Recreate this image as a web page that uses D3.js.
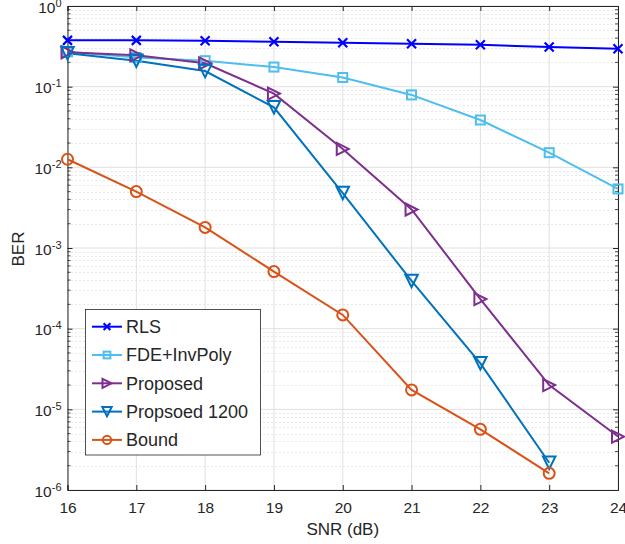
<!DOCTYPE html>
<html>
<head>
<meta charset="utf-8">
<script src="https://cdn.jsdelivr.net/npm/d3@7"></script>
<style>
  body { margin: 0; background: #fff; }
  text { font-family: "Liberation Sans", Arial, Helvetica, sans-serif; fill: #262626; }
</style>
</head>
<body>
<script>
// data
var snr = [16, 17, 18, 19, 20, 21, 22, 23, 24];
var rls = [0.375, 0.375, 0.37, 0.36, 0.35, 0.34, 0.33, 0.31, 0.295];
var fdeInvPoly = [0.27, 0.23, 0.21, 0.175, 0.13, 0.079, 0.0386, 0.0152, 0.0054];
var proposed = [0.267, 0.245, 0.195, 0.082, 0.0169, 0.0030, 2.33e-4, 2.0e-5, 4.6e-6];
var proposed1200 = [0.259, 0.21, 0.156, 0.0555, 0.0048, 3.9e-4, 3.72e-5, 2.18e-6];
var bound = [0.0126, 0.0050, 0.0018, 5.1e-4, 1.48e-4, 1.74e-5, 5.65e-6, 1.61e-6];
var xTicks = [16, 17, 18, 19, 20, 21, 22, 23, 24];
var yTicks = [1e-6, 1e-5, 1e-4, 1e-3, 1e-2, 1e-1, 1];

var series = [
  {name: 'RLS', values: rls, color: '#0000ff', marker: 'x'},
  {name: 'FDE+InvPoly', values: fdeInvPoly, color: '#4dbeee', marker: 'square'},
  {name: 'Proposed', values: proposed, color: '#7e2f8e', marker: 'right'},
  {name: 'Propsoed 1200', values: proposed1200, color: '#0072bd', marker: 'down'},
  {name: 'Bound', values: bound, color: '#d95319', marker: 'circle'}
];

var W = 625, H = 544;
var pLeft = 67.5, pRight = 618, pTop = 6, pBottom = 490;

var x = d3.scaleLinear().domain([16, 24]).range([pLeft, pRight]);
var y = d3.scaleLog().domain([1e-6, 1]).range([pBottom, pTop]);

var svg = d3.select('body').append('svg')
  .attr('width', W)
  .attr('height', H);

// minor + major grid
var minor = y.ticks().filter(function(d) { return yTicks.indexOf(d) < 0; });
svg.append('g').selectAll('line').data(minor).enter().append('line')
  .attr('x1', pLeft).attr('x2', pRight)
  .attr('y1', function(d) { return Math.round(y(d)) + 0.5; })
  .attr('y2', function(d) { return Math.round(y(d)) + 0.5; })
  .attr('stroke', '#c8c8c8').attr('stroke-width', 0.8)
  .attr('stroke-dasharray', '1,3');

svg.append('g').selectAll('line').data(yTicks).enter().append('line')
  .attr('x1', pLeft).attr('x2', pRight)
  .attr('y1', function(d) { return y(d); })
  .attr('y2', function(d) { return y(d); })
  .attr('stroke', '#e0e0e0').attr('stroke-width', 1);

svg.append('g').selectAll('line').data(xTicks).enter().append('line')
  .attr('y1', pTop).attr('y2', pBottom)
  .attr('x1', function(d) { return x(d); })
  .attr('x2', function(d) { return x(d); })
  .attr('stroke', '#e0e0e0').attr('stroke-width', 1);

// axes (ticks point inward, box on)
var xAxis = svg.append('g')
  .attr('transform', 'translate(0,' + pBottom + ')')
  .call(d3.axisBottom(x).tickValues(xTicks).tickSize(-5).tickPadding(12).tickFormat(d3.format('d')));
svg.append('g')
  .attr('transform', 'translate(0,' + pTop + ')')
  .call(d3.axisTop(x).tickValues(xTicks).tickSize(-5).tickFormat(''));

var yAxis = svg.append('g')
  .attr('transform', 'translate(' + pLeft + ',0)')
  .call(d3.axisLeft(y).tickValues(yTicks).tickSize(-5).tickPadding(6).tickFormat(''));
svg.append('g')
  .attr('transform', 'translate(' + pRight + ',0)')
  .call(d3.axisRight(y).tickValues(yTicks).tickSize(-5).tickFormat(''));

[pLeft, pRight].forEach(function(px) {
  var dir = px === pLeft ? 1 : -1;
  svg.append('g').selectAll('line').data(minor).enter().append('line')
    .attr('x1', px).attr('x2', px + dir * 3)
    .attr('y1', function(d) { return y(d); })
    .attr('y2', function(d) { return y(d); })
    .attr('stroke', '#262626').attr('stroke-width', 0.8);
});

svg.selectAll('.domain').attr('stroke', '#262626').attr('stroke-width', 1);
svg.selectAll('.tick line').attr('stroke', '#262626');

xAxis.selectAll('text')
  .style('font-size', '15.5px').attr('fill', '#262626');

yAxis.selectAll('.tick').each(function(d) {
  var t = d3.select(this).select('text')
    .attr('x', -6).attr('dy', '0.4em')
    .style('font-size', '15.5px').attr('fill', '#262626');
  t.text(null);
  var e = Math.round(Math.log10(d));
  t.append('tspan').text('10');
  t.append('tspan').attr('dy', '-0.55em').style('font-size', '11px')
    .text(e === 0 ? '0' : '-' + Math.abs(e));
});

// axis labels
svg.append('text')
  .attr('x', (pLeft + pRight) / 2).attr('y', 535)
  .attr('text-anchor', 'middle')
  .style('font-size', '17px')
  .text('SNR (dB)');
svg.append('text')
  .attr('transform', 'translate(24,249) rotate(-90)')
  .attr('text-anchor', 'middle')
  .style('font-size', '17px')
  .text('BER');

function drawMarker(g, type, color, s) {
  var h = s / 2;
  if (type === 'x') {
    g.append('path').attr('d', 'M' + (-h) + ',' + (-h) + 'L' + h + ',' + h + 'M' + (-h) + ',' + h + 'L' + h + ',' + (-h))
      .attr('stroke', color).attr('stroke-width', 2.2).attr('fill', 'none');
  } else if (type === 'square') {
    g.append('rect').attr('x', -h).attr('y', -h).attr('width', s).attr('height', s)
      .attr('stroke', color).attr('stroke-width', 2).attr('fill', 'none');
  } else if (type === 'circle') {
    g.append('circle').attr('r', h)
      .attr('stroke', color).attr('stroke-width', 2).attr('fill', 'none');
  } else if (type === 'right') {
    g.append('path').attr('d', 'M' + (-h) + ',' + (-h) + 'L' + h + ',0L' + (-h) + ',' + h + 'Z')
      .attr('stroke', color).attr('stroke-width', 2).attr('fill', 'none');
  } else if (type === 'down') {
    g.append('path').attr('d', 'M' + (-h) + ',' + (-h) + 'L' + h + ',' + (-h) + 'L0,' + h + 'Z')
      .attr('stroke', color).attr('stroke-width', 2).attr('fill', 'none');
  }
}

var markerSize = {x: 9, square: 9, circle: 11, right: 12, down: 12.5};

var line = d3.line()
  .x(function(d, i) { return x(snr[i]); })
  .y(function(d) { return y(d); });

series.forEach(function(s) {
  svg.append('path')
    .datum(s.values)
    .attr('d', line)
    .attr('fill', 'none')
    .attr('stroke', s.color)
    .attr('stroke-width', 2);
});
series.forEach(function(s) {
  s.values.forEach(function(v, i) {
    var g = svg.append('g').attr('transform', 'translate(' + x(snr[i]) + ',' + y(v) + ')');
    drawMarker(g, s.marker, s.color, markerSize[s.marker]);
  });
});

// legend
var legend = svg.append('g');
legend.append('rect')
  .attr('x', 85.5).attr('y', 309.5).attr('width', 175).attr('height', 145.5)
  .attr('fill', '#fff').attr('stroke', '#262626').attr('stroke-width', 0.8);

series.forEach(function(s, i) {
  var ly = 326.7 + i * 28.3;
  var g = legend.append('g').attr('transform', 'translate(0,' + ly + ')');
  g.append('line').attr('x1', 92).attr('x2', 122).attr('y1', 0).attr('y2', 0)
    .attr('stroke', s.color).attr('stroke-width', 2);
  var m = g.append('g').attr('transform', 'translate(107,0)');
  drawMarker(m, s.marker, s.color, markerSize[s.marker] * 0.75);
  g.append('text').attr('x', 126).attr('y', 0).attr('dy', '0.36em')
    .style('font-size', '18px')
    .text(s.name);
});
</script>
</body>
</html>
